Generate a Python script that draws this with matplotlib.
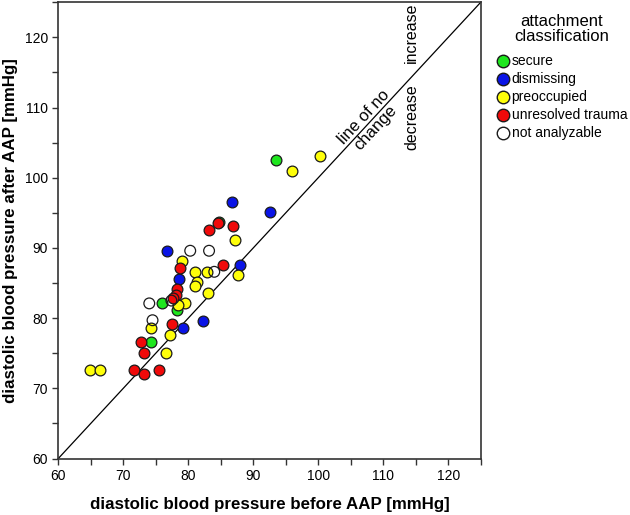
import matplotlib
matplotlib.use('Agg')
import matplotlib.pyplot as plt
from matplotlib.lines import Line2D

plt.rcParams['font.family'] = ['Liberation Sans', 'DejaVu Sans']

# diastolic BP before / after AAP, per attachment group
secure_before = [84.7, 93.5, 76.0, 78.2, 74.3]
secure_after = [93.7, 102.6, 82.1, 81.1, 76.6]

dismissing_before = [86.7, 92.5, 76.7, 88.0, 78.5, 79.2, 82.2]
dismissing_after = [96.6, 95.1, 89.6, 87.6, 85.6, 78.6, 79.6]

preoccupied_before = [100.2, 95.9, 87.2, 87.7, 79.0, 81.0, 82.9, 81.4, 81.1,
                      83.0, 79.5, 78.4, 74.3, 77.2, 76.5, 64.9, 66.4]
preoccupied_after = [103.1, 100.9, 91.1, 86.1, 88.1, 86.6, 86.6, 85.2, 84.6,
                     83.6, 82.1, 81.9, 78.6, 77.6, 75.1, 72.6, 72.6]

trauma_before = [83.2, 84.5, 86.9, 85.4, 78.7, 78.3, 78.1, 77.7, 77.5,
                 72.7, 73.2, 71.7, 73.2, 75.5]
trauma_after = [92.6, 93.6, 93.1, 87.6, 87.1, 84.1, 83.3, 82.8, 79.1,
                76.6, 75.1, 72.6, 72.1, 72.6]

na_before = [80.3, 83.2, 84.0, 77.4, 74.0, 74.5]
na_after = [89.6, 89.6, 86.6, 82.5, 82.1, 79.7]

groups = [
    ('secure', secure_before, secure_after, '#1ee61e'),
    ('dismissing', dismissing_before, dismissing_after, '#0a14e6'),
    ('preoccupied', preoccupied_before, preoccupied_after, '#ffff0a'),
    ('unresolved trauma', trauma_before, trauma_after, '#f00a0a'),
    ('not analyzable', na_before, na_after, 'none'),
]

W, H = 630, 515
fig = plt.figure(figsize=(W / 100, H / 100), dpi=100)
ax = fig.add_axes([58.3 / W, 1 - 458.5 / H, 422.4 / W, 456.2 / H])

# line of no change
ax.plot([60, 125], [60, 125], color='black', lw=0.9, zorder=1)

for name, xs, ys, col in groups:
    ax.scatter(xs, ys, s=60, facecolors=col, edgecolors='#1a1a1a',
               linewidths=0.9, zorder=3)

ax.set_xlim(60, 125)
ax.set_ylim(60, 125)
ax.set_xticks(range(60, 121, 10))
ax.set_yticks(range(60, 121, 10))
ax.set_xticks(range(65, 126, 5), minor=True)
ax.set_yticks(range(65, 126, 5), minor=True)
ax.tick_params(which='both', direction='out', labelsize=10, width=1,
               color='#333333', length=4.5, pad=3)
for sp in ax.spines.values():
    sp.set_linewidth(1.2)
    sp.set_color('#333333')

ax.set_xlabel('diastolic blood pressure before AAP [mmHg]', fontsize=12.2,
              fontweight='bold', labelpad=10)
ax.set_ylabel('diastolic blood pressure after AAP [mmHg]', fontsize=12.2,
              fontweight='bold', labelpad=5)

ax.text(107.9, 107.9, 'line of no\nchange', rotation=47, fontsize=12,
        ha='center', va='center', linespacing=1.0, rotation_mode='anchor')
ax.text(114.4, 120.7, 'increase', rotation=90, fontsize=11.5,
        ha='center', va='center')
ax.text(114.4, 108.6, 'decrease', rotation=90, fontsize=11.5,
        ha='center', va='center')

# legend, drawn by hand in figure pixels
fig.text(562 / W, 1 - 29 / H, 'attachment\nclassification', fontsize=12,
         ha='center', va='center', linespacing=0.95)
for i, (name, xs, ys, col) in enumerate(groups):
    yy = 1 - (61 + 18 * i) / H
    fig.add_artist(Line2D([502.7 / W], [yy], marker='o', linestyle='',
                          markersize=9, markerfacecolor=col,
                          markeredgecolor='#1a1a1a', markeredgewidth=1.0,
                          transform=fig.transFigure))
    fig.text(511.5 / W, yy, name, fontsize=10, ha='left', va='center')

fig.savefig('out.png', dpi=100)
